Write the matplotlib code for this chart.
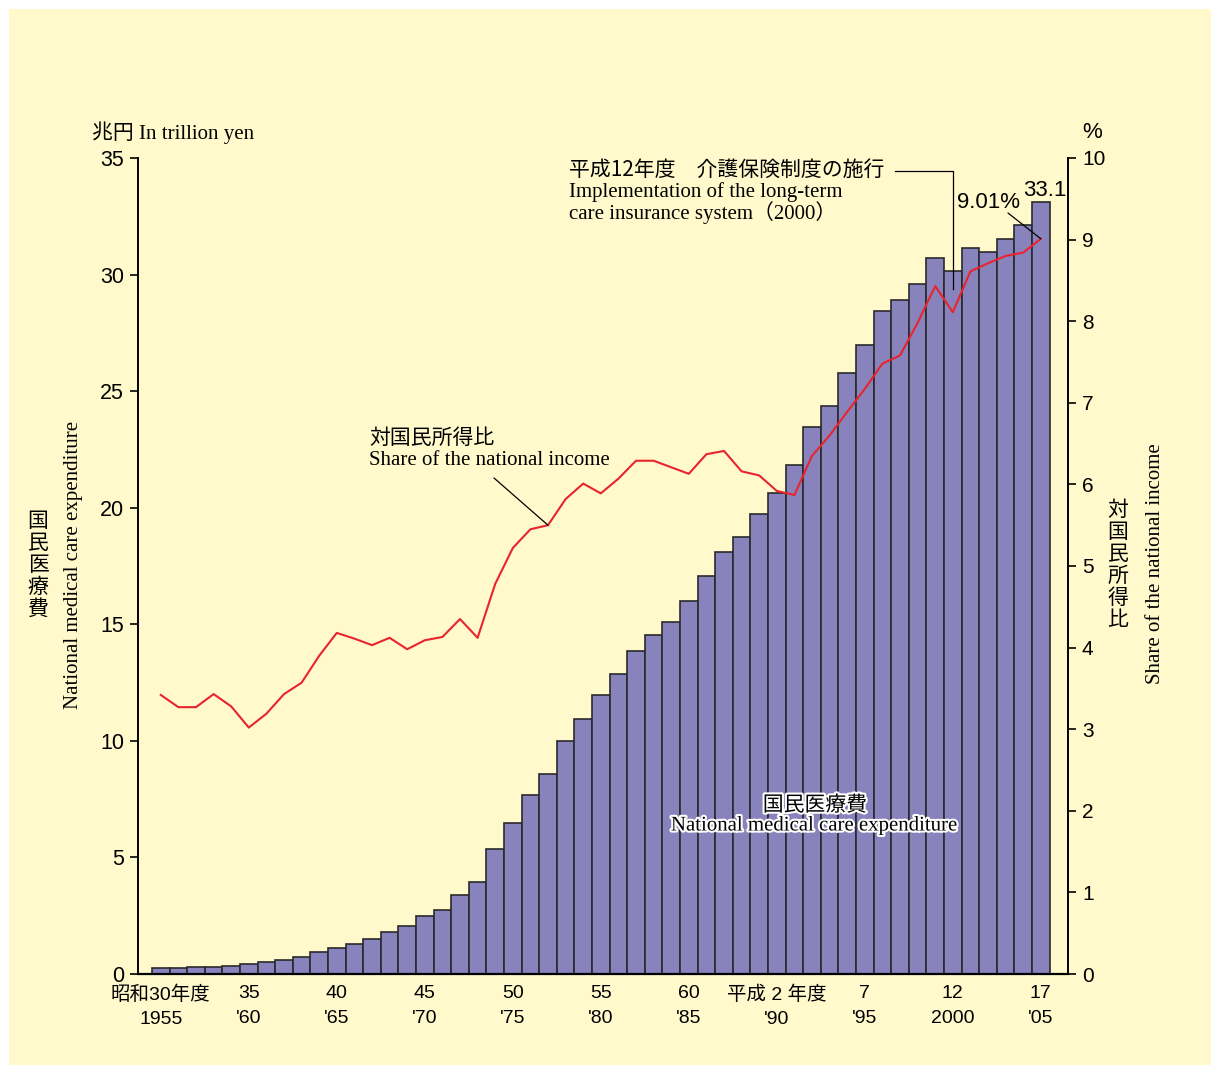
import matplotlib.pyplot as plt
import matplotlib.patheffects as pe
from matplotlib.lines import Line2D
from matplotlib.patches import Rectangle

# 国民医療費 (兆円) と 対国民所得比 (%), 昭和30年度(1955) - 平成17年度(2005)
years = list(range(1955, 2006))
expenditure = [0.24, 0.26, 0.29, 0.32, 0.36, 0.41, 0.51, 0.61, 0.75, 0.94,
               1.12, 1.30, 1.51, 1.80, 2.08, 2.50, 2.73, 3.40, 3.95, 5.38,
               6.48, 7.67, 8.57, 10.00, 10.95, 11.98, 12.87, 13.87, 14.54, 15.09,
               16.02, 17.07, 18.08, 18.76, 19.73, 20.61, 21.83, 23.48, 24.36, 25.79,
               26.96, 28.45, 28.91, 29.58, 30.70, 30.14, 31.12, 30.95, 31.54, 32.11,
               33.13]
share = [3.42, 3.27, 3.27, 3.43, 3.28, 3.02, 3.19, 3.43, 3.57, 3.90,
         4.18, 4.11, 4.03, 4.12, 3.98, 4.09, 4.13, 4.35, 4.12, 4.78,
         5.22, 5.45, 5.50, 5.82, 6.01, 5.89, 6.07, 6.29, 6.29, 6.21,
         6.13, 6.37, 6.41, 6.16, 6.11, 5.92, 5.87, 6.35, 6.60, 6.89,
         7.17, 7.48, 7.58, 7.98, 8.43, 8.11, 8.61, 8.71, 8.80, 8.84,
         9.01]

tick_years = [1955, 1960, 1965, 1970, 1975, 1980, 1985, 1990, 1995, 2000, 2005]
tick_labels = ['昭和30年度\n1955', '35\n\'60', '40\n\'65', '45\n\'70', '50\n\'75',
               '55\n\'80', '60\n\'85', '平成 2 年度\n\'90', '7\n\'95', '12\n2000',
               '17\n\'05']

W, H = 1211, 1065
BG = '#FFF9CC'
JP = ['Noto Sans CJK JP', 'DejaVu Sans']
SERIF = ['Liberation Serif', 'Noto Sans CJK JP']
SANS = ['Liberation Sans', 'Noto Sans CJK JP']


def fx(px):
    return px / W


def fy(py):
    return 1 - py / H


fig = plt.figure(figsize=(W / 100, H / 100), dpi=100, facecolor='white')
fig.add_artist(Rectangle((fx(9), 0), 1, fy(9), transform=fig.transFigure,
                         facecolor=BG, edgecolor='none', zorder=-10))

ax = fig.add_axes([fx(138), fy(974), fx(1068) - fx(138), fy(158) - fy(974)])
ax.set_facecolor('none')
ax.bar(years, expenditure, width=1.0, color='#8883BD', edgecolor='#2a2a2a',
       linewidth=1.2, zorder=2)
ax.set_xlim(1953.705, 2006.545)
ax.set_ylim(0, 35)
ax.set_yticks(range(0, 36, 5))
ax.set_xticks(tick_years)
ax.set_xticklabels(tick_labels, family=SANS, fontsize=14, linespacing=1.6)
ax.tick_params(axis='x', length=0, pad=8)
ax.tick_params(axis='y', length=6, width=1.2, direction='out', labelsize=15.5, pad=4)
for lab in ax.get_yticklabels():
    lab.set_family(SANS)
for s in ['top', 'right']:
    ax.spines[s].set_visible(False)
ax.spines['left'].set_linewidth(1.4)
ax.spines['bottom'].set_linewidth(1.6)

ax2 = ax.twinx()
ax2.set_ylim(0, 10)
ax2.plot(years, share, color='#E8242C', lw=1.5, zorder=3)
ax2.set_yticks(range(0, 11))
ax2.tick_params(axis='y', length=6, width=1.2, direction='out', labelsize=15, pad=4)
for lab in ax2.get_yticklabels():
    lab.set_family(SANS)
for s in ['top', 'left', 'bottom']:
    ax2.spines[s].set_visible(False)
ax2.spines['right'].set_linewidth(1.4)

# axis captions
fig.text(fx(92), fy(133), '兆円 In trillion yen', family=SERIF, fontsize=15,
         ha='left', va='center')
fig.text(fx(1092), fy(133), '%', family=SANS, fontsize=16, ha='center', va='center')
fig.text(fx(38), fy(565), '\n'.join('国民医療費'), family=JP, fontsize=15,
         ha='center', va='center', linespacing=1.0)
fig.text(fx(74), fy(565), 'National medical care expenditure', family=SERIF,
         fontsize=15, rotation=90, ha='center', va='center')
fig.text(fx(1118), fy(565), '\n'.join('対国民所得比'), family=JP, fontsize=15,
         ha='center', va='center', linespacing=1.0)
fig.text(fx(1155), fy(564), 'Share of the national income', family=SERIF,
         fontsize=15, rotation=90, ha='center', va='center')

# line annotation
fig.text(fx(369), fy(438), '対国民所得比', family=JP, fontsize=15, ha='left', va='center')
fig.text(fx(369), fy(461), 'Share of the national income', family=SERIF, fontsize=15,
         ha='left', va='center')
i77 = years.index(1977)
ax2.annotate('', xy=(years[i77], share[i77]), xytext=(fx(494), fy(478)),
             textcoords='figure fraction',
             arrowprops=dict(arrowstyle='-', color='black', lw=0.9,
                             shrinkA=0, shrinkB=0))

# 2000 annotation
fig.text(fx(569), fy(170), '平成12年度　介護保険制度の施行', family=JP, fontsize=15,
         ha='left', va='center')
fig.text(fx(569), fy(192), 'Implementation of the long-term', family=SERIF,
         fontsize=15, ha='left', va='center')
fig.text(fx(569), fy(213), 'care insurance system（2000）', family=SERIF,
         fontsize=15, ha='left', va='center')
fig.add_artist(Line2D([fx(895), fx(953), fx(953)], [fy(171), fy(171), fy(289)],
                      transform=fig.transFigure, color='black', lw=0.9))

# latest values
i05 = years.index(2005)
fig.text(fx(988), fy(203), f'{share[i05]:.2f}%', family=SANS, fontsize=16,
         ha='center', va='center')
ax2.annotate('', xy=(years[i05], share[i05]), xytext=(fx(1008), fy(213)),
             textcoords='figure fraction',
             arrowprops=dict(arrowstyle='-', color='black', lw=0.9,
                             shrinkA=0, shrinkB=0))
fig.text(fx(1045), fy(190), f'{expenditure[i05]:.1f}', family=SANS, fontsize=16,
         ha='center', va='center')

# bar label
halo = [pe.withStroke(linewidth=3, foreground='white')]
fig.text(fx(815), fy(805), '国民医療費', family=JP, fontsize=15, ha='center',
         va='center', path_effects=halo, zorder=5)
fig.text(fx(815), fy(826), 'National medical care expenditure', family=SERIF,
         fontsize=15, ha='center', va='center', path_effects=halo, zorder=5)

fig.savefig('out.png', dpi=100, facecolor=fig.get_facecolor())
